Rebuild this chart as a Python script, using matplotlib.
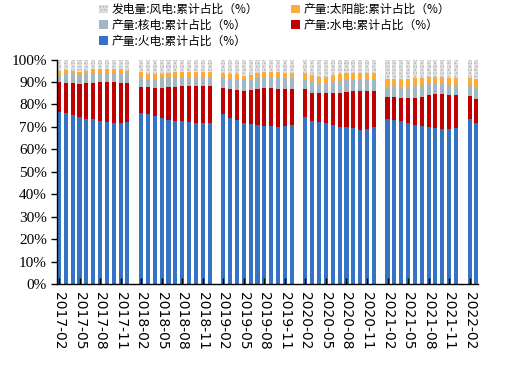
import numpy as np
import matplotlib
matplotlib.use('Agg')
from matplotlib import pyplot as plt

plt.rcParams['font.family'] = ['Noto Sans CJK SC', 'DejaVu Sans']
plt.rcParams['hatch.linewidth'] = 0.9

# months shown (January is folded into February in the source statistics)
years = [2017, 2018, 2019, 2020, 2021]
months = [f'{y}-{m:02d}' for y in years for m in range(2, 13)] + ['2022-02', '2022-03']

# shares of generation, %
thermal = [76.8, 76.3, 75.4, 74.5, 73.6, 73.4, 72.8, 72.3, 71.9, 71.9, 72.3,
           76.0, 75.6, 75.0, 74.1, 73.2, 72.8, 72.8, 72.1, 71.6, 71.6, 71.9,
           75.6, 74.1, 73.2, 71.9, 71.4, 70.8, 70.5, 70.5, 70.1, 70.5, 70.8,
           74.5, 72.6, 72.3, 71.9, 70.8, 69.9, 69.8, 69.5, 68.6, 69.0, 69.8,
           73.4, 73.2, 72.8, 71.6, 71.0, 70.5, 70.1, 69.6, 69.2, 69.0, 69.6,
           73.6, 71.9]
hydro = [13.0, 13.4, 14.0, 14.7, 15.8, 16.3, 17.0, 17.5, 17.9, 17.6, 17.1,
         11.9, 12.3, 12.3, 13.3, 14.7, 15.1, 15.4, 16.1, 16.7, 16.7, 16.4,
         11.9, 12.8, 13.2, 14.2, 15.0, 16.2, 16.7, 16.7, 16.9, 16.5, 16.1,
         12.2, 12.6, 12.6, 13.0, 14.4, 15.3, 15.9, 16.6, 17.5, 17.1, 16.3,
         10.0, 10.1, 10.2, 11.4, 12.0, 12.9, 13.9, 14.9, 15.3, 15.0, 14.4,
         10.3, 10.5]
nuclear = [3.4, 4.1, 4.1, 4.0, 4.1, 4.1, 4.0, 4.0, 4.0, 4.3, 4.1,
           4.0, 3.4, 4.0, 4.2, 4.0, 4.2, 4.2, 4.2, 4.1, 4.1, 4.1,
           4.4, 4.4, 4.6, 4.8, 4.6, 4.6, 4.7, 4.7, 4.9, 4.9, 5.0,
           4.2, 4.6, 4.5, 4.5, 4.6, 5.2, 5.2, 4.8, 4.8, 4.8, 4.9,
           4.5, 4.9, 4.9, 4.9, 5.3, 5.2, 4.9, 4.9, 4.9, 4.6, 4.6,
           4.7, 5.1]
solar = [1.9, 1.5, 1.6, 1.4, 1.6, 1.9, 2.1, 2.1, 2.2, 1.9, 1.6,
         2.4, 2.4, 2.3, 2.1, 2.0, 2.2, 2.0, 2.2, 2.2, 2.2, 2.2,
         2.2, 2.1, 2.6, 1.9, 2.3, 2.2, 2.4, 2.5, 2.4, 2.2, 2.2,
         2.9, 3.1, 3.0, 3.0, 3.1, 3.1, 2.9, 3.1, 3.1, 2.9, 2.8,
         3.3, 3.1, 3.4, 3.3, 3.3, 3.0, 3.2, 3.0, 3.0, 3.3, 3.3,
         3.3, 3.7]
wind = [4.9, 4.7, 4.9, 5.4, 4.9, 4.3, 4.1, 4.1, 4.0, 4.3, 4.9,
        5.7, 6.3, 6.4, 6.3, 6.1, 5.7, 5.6, 5.4, 5.4, 5.4, 5.4,
        5.9, 6.6, 6.4, 7.2, 6.7, 6.2, 5.7, 5.6, 5.7, 5.9, 5.9,
        6.2, 7.1, 7.6, 7.6, 7.1, 6.5, 6.2, 6.0, 6.0, 6.2, 6.2,
        8.8, 8.7, 8.7, 8.8, 8.4, 8.4, 7.9, 7.6, 7.6, 8.1, 8.1,
        8.1, 8.8]

# position on a monthly axis, counted from 2017-02
x = np.array([(int(m[:4]) - 2017) * 12 + int(m[5:]) - 2 for m in months])
tick_pos = np.arange(0, x.max() + 1, 3)
tick_labels = [f'{2017 + (p + 1) // 12}-{(p + 1) % 12 + 1:02d}' for p in tick_pos]

fig = plt.figure(figsize=(5.29, 3.71), dpi=100)
ax = fig.add_axes([0.107, 0.2345, 0.797, 0.605])

w = 0.6
bottom = np.zeros(len(x))
b_th = ax.bar(x, thermal, w, bottom=bottom, color='#3473C6', lw=0)
bottom += thermal
b_hy = ax.bar(x, hydro, w, bottom=bottom, color='#C00000', lw=0)
bottom += hydro
b_nu = ax.bar(x, nuclear, w, bottom=bottom, color='#A3B7C2', lw=0)
bottom += nuclear
b_so = ax.bar(x, solar, w, bottom=bottom, color='#FFAB3A', lw=0)
bottom += solar
b_wi = ax.bar(x, wind, w, bottom=bottom, color='#E2E2E2', edgecolor='#B4B4B4',
              hatch='.....', lw=0)

ax.set_xlim(-0.35, x.max() + 0.25)
ax.set_ylim(0, 100)
ax.set_yticks(np.arange(0, 101, 10))
ax.set_yticklabels([f'{v}%' for v in range(0, 101, 10)],
                   fontfamily='Liberation Serif', fontsize=11)
ax.set_xticks(tick_pos)
ax.set_xticklabels(tick_labels, rotation=-90, fontfamily='DejaVu Sans', fontsize=10)
ax.tick_params(axis='x', direction='in', length=4, width=1, pad=6)
ax.tick_params(axis='y', direction='out', length=4, width=1, pad=3)
for s in ['top', 'right']:
    ax.spines[s].set_visible(False)
for s in ['left', 'bottom']:
    ax.spines[s].set_linewidth(1)

handles = [b_wi, b_nu, b_th, b_so, b_hy]
labels = ['发电量:风电:累计占比（%）', '产量:核电:累计占比（%）', '产量:火电:累计占比（%）',
          '产量:太阳能:累计占比（%）', '产量:水电:累计占比（%）']
fig.legend(handles, labels, loc='upper left', bbox_to_anchor=(0.178, 1.004), ncol=2,
           frameon=False, fontsize=8.5, handlelength=0.75, handleheight=0.75,
           handletextpad=0.3, columnspacing=2.8, labelspacing=0.22, borderaxespad=0)

plt.savefig('out.png', dpi=100)
